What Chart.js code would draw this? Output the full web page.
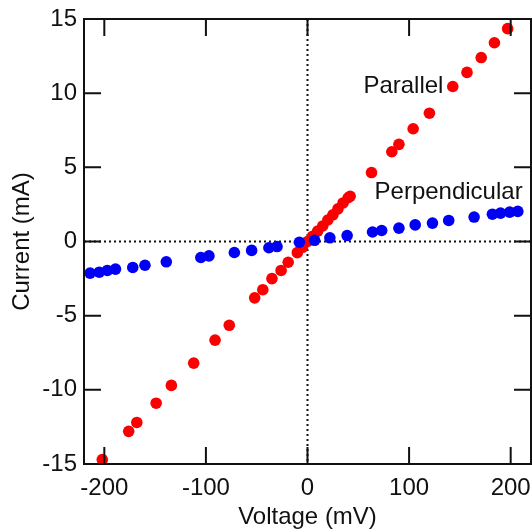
<!DOCTYPE html>
<html>
<head>
<meta charset="utf-8">
<script src="https://cdn.jsdelivr.net/npm/chart.js@4/dist/chart.umd.min.js"></script>
<style>
  html, body { margin: 0; padding: 0; background: #fff; }
  canvas { display: block; }
</style>
</head>
<body>
<canvas id="iv" width="532" height="531"></canvas>
<script>
// Parallel (red) – voltage in mV, current in mA
const parallelV = [-202, -176, -168, -149, -134, -112, -91, -77, -52, -44, -35, -26, -19, -10, -5,
  0, 5, 10, 15, 20, 25, 30, 35, 40, 42, 63, 83, 90, 104, 120, 143, 157, 171, 184, 197];
const parallelI = [-14.7, -12.8, -12.2, -10.9, -9.7, -8.2, -6.65, -5.65, -3.8, -3.25, -2.5, -1.95, -1.4, -0.75, -0.4,
  0, 0.35, 0.7, 1.05, 1.45, 1.8, 2.2, 2.6, 2.95, 3.05, 4.65, 6.05, 6.55, 7.6, 8.65, 10.45, 11.4, 12.4, 13.4, 14.35];

// Perpendicular (blue)
const perpV = [-214, -205, -197, -189, -172, -160, -139, -105, -97, -72, -55, -38, -30, -8,
  7, 22, 39, 64, 73, 90, 106, 123, 139, 164, 182, 190, 199, 207];
const perpI = [-2.13, -2.07, -1.95, -1.86, -1.75, -1.6, -1.37, -1.08, -0.97, -0.74, -0.6, -0.42, -0.34, -0.05,
  0.08, 0.25, 0.4, 0.64, 0.74, 0.9, 1.12, 1.24, 1.42, 1.65, 1.84, 1.91, 1.98, 2.03];

const xTicks = [-200, -100, 0, 100, 200];
const yTicks = [-15, -10, -5, 0, 5, 10, 15];

const FONT = "'Liberation Sans', Arial, Helvetica, sans-serif";
const INK = '#111';

const toPts = (xs, ys) => xs.map((v, i) => ({ x: v, y: ys[i] }));

// frame, inward ticks, zero lines and the two labels
const framePlugin = {
  id: 'frame',
  beforeDatasetsDraw(chart) {
    const { ctx, chartArea: a, scales: { x, y } } = chart;
    const x0 = x.getPixelForValue(0), y0 = y.getPixelForValue(0);
    ctx.save();
    ctx.strokeStyle = INK;
    ctx.lineWidth = 2;
    ctx.setLineDash([2, 3]);
    ctx.beginPath();
    ctx.moveTo(x0, a.top); ctx.lineTo(x0, a.bottom);
    ctx.moveTo(a.left, y0); ctx.lineTo(a.right, y0);
    ctx.stroke();
    ctx.restore();
  },
  afterDatasetsDraw(chart) {
    const { ctx, chartArea: a, scales: { x, y } } = chart;
    const len = 17;
    ctx.save();
    ctx.strokeStyle = INK;
    ctx.lineWidth = 2;
    ctx.strokeRect(a.left, a.top, a.right - a.left, a.bottom - a.top);
    ctx.beginPath();
    xTicks.forEach(v => {
      const px = x.getPixelForValue(v);
      ctx.moveTo(px, a.bottom); ctx.lineTo(px, a.bottom - len);
      ctx.moveTo(px, a.top); ctx.lineTo(px, a.top + len);
    });
    yTicks.forEach(v => {
      const py = y.getPixelForValue(v);
      ctx.moveTo(a.left, py); ctx.lineTo(a.left + len, py);
      ctx.moveTo(a.right, py); ctx.lineTo(a.right - len, py);
    });
    ctx.stroke();

    ctx.fillStyle = INK;
    ctx.font = '24px ' + FONT;
    ctx.textAlign = 'left';
    ctx.textBaseline = 'alphabetic';
    ctx.fillText('Parallel', x.getPixelForValue(55), y.getPixelForValue(10));
    ctx.fillText('Perpendicular', x.getPixelForValue(66), y.getPixelForValue(2.85));
    ctx.restore();
  }
};

new Chart(document.getElementById('iv'), {
  type: 'scatter',
  data: {
    datasets: [
      {
        label: 'Perpendicular',
        data: toPts(perpV, perpI),
        pointBackgroundColor: 'rgb(0, 0, 245)',
        pointBorderWidth: 0,
        pointRadius: 5.8
      },
      {
        label: 'Parallel',
        data: toPts(parallelV, parallelI),
        pointBackgroundColor: 'rgb(250, 0, 0)',
        pointBorderWidth: 0,
        pointRadius: 5.8
      }
    ]
  },
  options: {
    responsive: false,
    animation: false,
    layout: { autoPadding: false, padding: { top: 19, right: 1, left: 0, bottom: 0 } },
    plugins: { legend: { display: false }, tooltip: { enabled: false } },
    scales: {
      x: {
        type: 'linear',
        min: -220,
        max: 220,
        afterBuildTicks: s => { s.ticks = xTicks.map(v => ({ value: v })); },
        afterFit: s => { s.height = 67; s.paddingLeft = 0; s.paddingRight = 0; },
        grid: { display: false, drawTicks: false },
        border: { display: false },
        ticks: { color: INK, padding: 10, maxRotation: 0, font: { family: FONT, size: 24 } },
        title: {
          display: true, text: 'Voltage (mV)', color: INK, padding: 0,
          font: { family: FONT, size: 24, lineHeight: 1.1 }
        }
      },
      y: {
        type: 'linear',
        min: -15,
        max: 15,
        afterBuildTicks: s => { s.ticks = yTicks.map(v => ({ value: v })); },
        afterFit: s => { s.width = 84; s.paddingTop = 0; s.paddingBottom = 0; },
        grid: { display: false, drawTicks: false },
        border: { display: false },
        ticks: { color: INK, padding: 7, font: { family: FONT, size: 24 } },
        title: {
          display: true, text: 'Current (mA)', color: INK, padding: { top: 9, bottom: 0 },
          font: { family: FONT, size: 24, lineHeight: 1.1 }
        }
      }
    }
  },
  plugins: [framePlugin]
});
</script>
</body>
</html>
